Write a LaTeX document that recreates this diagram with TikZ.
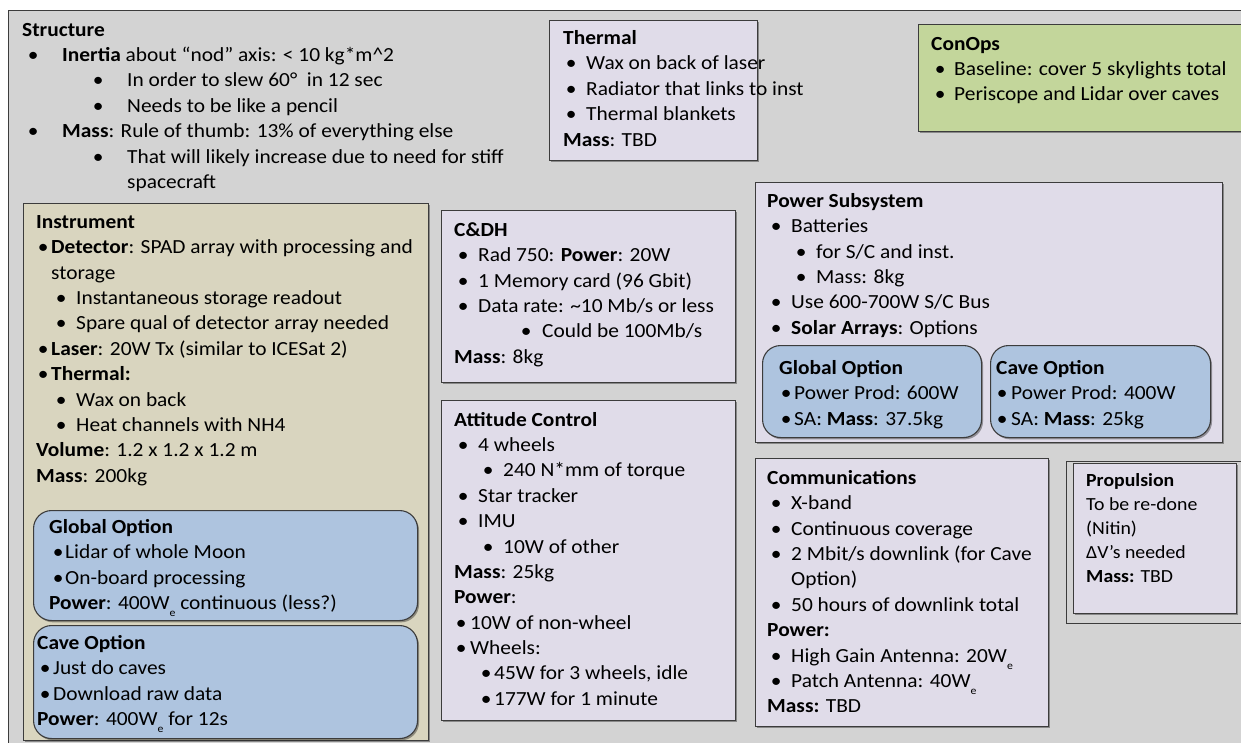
\documentclass[tikz,border=0pt]{standalone}
\usepackage{fontspec}
\setmainfont{Carlito}[FakeStretch=1.07]
\usetikzlibrary{shadows}
\definecolor{bggray}{HTML}{D3D3D3}
\definecolor{lav}{HTML}{E0DCE9}
\definecolor{tan}{HTML}{D9D5BF}
\definecolor{optblue}{HTML}{AEC4DF}
\definecolor{conops}{HTML}{C3D69B}
\definecolor{edge}{HTML}{3C3C3C}
\newcommand\bodyfont{\fontsize{20}{25.4}\selectfont}
\newcommand\smallbody{\fontsize{18.5}{24}\selectfont}
\newcommand\itm[3]{\hspace*{#1pt}\hspace*{3pt}\makebox[0pt]{\textbullet}\hspace*{#2pt}\hspace*{-3pt}#3}
\newcommand\sube{\raisebox{-7pt}{\fontsize{11}{11}\selectfont e}}
\newcommand\topstrut{\rule{0pt}{14pt}}
\begin{document}
\begin{tikzpicture}[x=1pt,y=-1pt,
  shad/.style={drop shadow={shadow xshift=1.5pt,shadow yshift=-1.8pt,opacity=0.35,fill=black}},
  box/.style={draw=edge,line width=1.1pt,anchor=north west,inner sep=0pt,shad},
  optbox/.style={box,fill=optblue,rounded corners=18pt},
  txt/.style={anchor=north west,inner sep=0pt,align=left,font=\bodyfont,text=black}]
\useasboundingbox (0,0) rectangle (1241,743);
\fill[white] (0,0) rectangle (1241,743);
% background panel
\node[draw=edge,line width=1.1pt,fill=bggray,anchor=north west,inner sep=0pt,minimum width=1260pt,minimum height=780pt] (bg) at (8,10) {};

% Structure
\node[txt] (structure) at (22,22) {\topstrut\textbf{Structure}\\
\itm{8}{32}{\textbf{Inertia} about “nod” axis: < 10 kg*m\textasciicircum2}\\
\itm{73}{32}{In order to slew 60°~ in 12 sec}\\
\itm{73}{32}{Needs to be like a pencil}\\
\itm{8}{32}{\textbf{Mass}: Rule of thumb: 13\% of everything else}\\
\itm{73}{32}{That will likely increase due to need for stiff}\\
\hspace*{105pt}spacecraft};

% Thermal
\node[box,fill=lav,minimum width=208pt,minimum height=140pt] (thermal) at (549,20) {};
\node[txt,font=\fontsize{20}{25.5}\selectfont] (thermaltxt) at (563,30) {\topstrut\textbf{Thermal}\\
\itm{5}{18}{Wax on back of laser}\\
\itm{5}{18}{Radiator that links to inst}\\
\itm{5}{18}{Thermal blankets}\\
\textbf{Mass}: TBD};

% ConOps
\node[box,fill=conops,minimum width=340pt,minimum height=107pt] (conops) at (918,24) {};
\node[txt] (conopstxt) at (931,36) {\topstrut\textbf{ConOps}\\
\itm{6}{17}{Baseline: cover 5 skylights total}\\
\itm{6}{17}{Periscope and Lidar over caves}};

% Instrument
\node[box,fill=tan,minimum width=405pt,minimum height=537pt] (instrument) at (23,203) {};
\node[txt] (instrtxt) at (36,214) {\topstrut\textbf{Instrument}\\
\itm{4}{11}{\textbf{Detector}: SPAD array with processing and}\\
\hspace*{15pt}storage\\
\itm{22}{18}{Instantaneous storage readout}\\
\itm{22}{18}{Spare qual of detector array needed}\\
\itm{4}{11}{\textbf{Laser}: 20W Tx (similar to ICESat 2)}\\
\itm{4}{11}{\textbf{Thermal:}}\\
\itm{22}{18}{Wax on back}\\
\itm{22}{18}{Heat channels with NH4}\\
\textbf{Volume}: 1.2 x 1.2 x 1.2 m\\
\textbf{Mass}: 200kg};

\node[optbox,minimum width=384pt,minimum height=110pt] (instglobal) at (33,510) {};
\node[txt] (instglobaltxt) at (49,519) {\topstrut\textbf{Global Option}\\
\itm{6}{10}{Lidar of whole Moon}\\
\itm{6}{10}{On-board processing}\\
\textbf{Power}: 400W\sube{} continuous (less?)};

\node[optbox,minimum width=384pt,minimum height=113pt] (instcave) at (33,625) {};
\node[txt] (instcavetxt) at (37,635) {\topstrut\textbf{Cave Option}\\
\itm{5}{11}{Just do caves}\\
\itm{5}{11}{Download raw data}\\
\textbf{Power}: 400W\sube{} for 12s};

% C&DH
\node[box,fill=lav,minimum width=294pt,minimum height=172pt] (cdh) at (441,210) {};
\node[txt] (cdhtxt) at (454,222) {\topstrut\textbf{C\&DH}\\
\itm{6}{18}{Rad 750: \textbf{Power}: 20W}\\
\itm{6}{18}{1 Memory card (96 Gbit)}\\
\itm{6}{18}{Data rate: \textasciitilde10 Mb/s or less}\\
\itm{69}{19}{Could be 100Mb/s}\\
\textbf{Mass}: 8kg};

% Attitude control
\node[box,fill=lav,minimum width=294pt,minimum height=320pt] (adcs) at (441,400) {};
\node[txt,font=\fontsize{20}{25.36}\selectfont] (adcstxt) at (454,412) {\topstrut\textbf{Attitude Control}\\
\itm{6}{18}{4 wheels}\\
\itm{31}{18}{240 N*mm of torque}\\
\itm{6}{18}{Star tracker}\\
\itm{6}{18}{IMU}\\
\itm{31}{18}{10W of other}\\
\textbf{Mass}: 25kg\\
\textbf{Power}:\\
\itm{4}{12}{10W of non-wheel}\\
\itm{4}{12}{Wheels:}\\
\itm{29}{11}{45W for 3 wheels, idle}\\
\itm{29}{11}{177W for 1 minute}};

% Power subsystem
\node[box,fill=lav,minimum width=467pt,minimum height=260pt] (power) at (755,182) {};
\node[txt] (powertxt) at (767,193) {\topstrut\textbf{Power Subsystem}\\
\itm{6}{18}{Batteries}\\
\itm{31}{18}{for S/C and inst.}\\
\itm{31}{18}{Mass: 8kg}\\
\itm{6}{18}{Use 600-700W S/C Bus}\\
\itm{6}{18}{\textbf{Solar Arrays}: Options}};

\node[optbox,minimum width=219pt,minimum height=92pt] (powglobal) at (762,345) {};
\node[txt] (powglobaltxt) at (779,360) {\topstrut\textbf{Global Option}\\
\itm{4}{11}{Power Prod: 600W}\\
\itm{4}{11}{SA: \textbf{Mass}: 37.5kg}};

\node[optbox,minimum width=220pt,minimum height=92pt] (powcave) at (990,345) {};
\node[txt] (powcavetxt) at (996,360) {\topstrut\textbf{Cave Option}\\
\itm{3}{12}{Power Prod: 400W}\\
\itm{3}{12}{SA: \textbf{Mass}: 25kg}};

% Communications
\node[box,fill=lav,minimum width=293pt,minimum height=268pt] (comms) at (755,458) {};
\node[txt] (commstxt) at (767,470) {\topstrut\textbf{Communications}\\
\itm{6}{18}{X-band}\\
\itm{6}{18}{Continuous coverage}\\
\itm{6}{18}{2 Mbit/s downlink (for Cave}\\
\hspace*{24pt}Option)\\
\itm{6}{18}{50 hours of downlink total}\\
\textbf{Power:}\\
\itm{6}{18}{High Gain Antenna: 20W\sube}\\
\itm{6}{18}{Patch Antenna: 40W\sube}\\
\textbf{Mass:} TBD};

% Propulsion
\node[draw=edge,line width=0.9pt,fill=bggray,anchor=north west,inner sep=0pt,minimum width=176pt,minimum height=162pt] (propframe) at (1066,461) {};
\node[box,fill=lav,minimum width=163pt,minimum height=150pt] (prop) at (1073,463) {};
\node[txt,font=\smallbody] (proptxt) at (1086,473) {\rule{0pt}{13pt}\textbf{Propulsion}\\
To be re-done\\
(Nitin)\\
ΔV’s needed\\
\textbf{Mass:} TBD};
\end{tikzpicture}
\end{document}
